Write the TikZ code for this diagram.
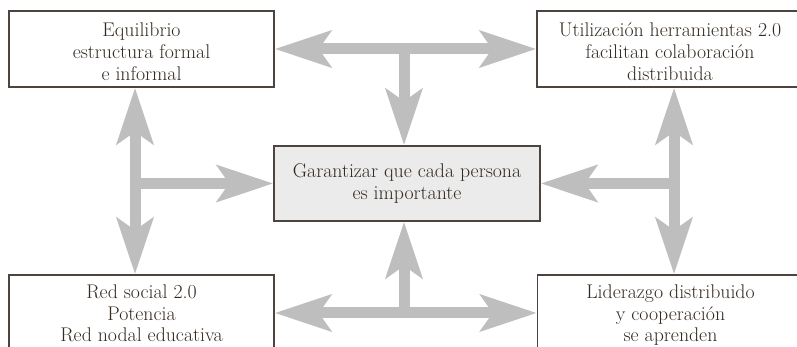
\documentclass[tikz,border=0pt]{standalone}
\usepackage{fontspec}
\usetikzlibrary{arrows.meta}
\definecolor{txtc}{HTML}{33291F}
\definecolor{brdc}{HTML}{4D4440}
\definecolor{arrc}{HTML}{BEBEBE}
\definecolor{cfill}{HTML}{EBEBEB}
\newcommand{\boxtext}[2][0pt]{\raisebox{#1}[\height][\depth]{\begin{tabular}{@{}c@{}}#2\end{tabular}}}
\tikzset{
  box/.style={draw=brdc, line width=1.3pt, text=txtc, align=center, inner sep=0pt,
    minimum width=265pt, minimum height=76pt,
    font=\fontsize{19.8}{21.7}\selectfont},
  conn/.style={draw=arrc, line width=11pt,
    arrows={-Stealth[length=56pt, width=36pt, inset=12pt]}},
  dconn/.style={draw=arrc, line width=11pt,
    arrows={Stealth[length=56pt, width=36pt, inset=12pt]-Stealth[length=56pt, width=36pt, inset=12pt]}}
}
\begin{document}
\begin{tikzpicture}[x=1pt,y=1pt]
\useasboundingbox (0,0) rectangle (797,347);
\node[box] (tl) at (141.5,298) {\boxtext[-5.3pt]{Equilibrio\\estructura formal\\e informal}};
\node[box, minimum width=266pt] (tr) at (670,298) {\boxtext[-5.3pt]{Utilización herramientas 2.0\\facilitan colaboración\\distribuida}};
\node[box] (bl) at (141.5,34) {\boxtext[-2.7pt]{Red social 2.0\\Potencia\\Red nodal educativa}};
\node[box, minimum width=266pt] (br) at (670.5,34) {\boxtext[-2.7pt]{Liderazgo distribuido\\y cooperación\\se aprenden}};
\node[box, fill=cfill, minimum width=266pt, minimum height=75pt] (c) at (407,163.5) {\boxtext[-1pt]{Garantizar que cada persona\\es importante}};
\coordinate (jt) at (404,298);
\coordinate (jb) at (404,34);
\coordinate (jl) at (135,163.5);
\coordinate (jr) at (674,163.5);
\draw[dconn] (tl.east) -- (tr.west);
\draw[conn] (jt) -- (jt |- c.north);
\draw[dconn] (bl.east) -- (br.west);
\draw[conn] (jb) -- (jb |- c.south);
\draw[dconn] (jl |- tl.south) -- (jl |- bl.north);
\draw[conn] (jl) -- (c.west);
\draw[dconn] (jr |- tr.south) -- (jr |- br.north);
\draw[conn] (jr) -- (c.east);
\end{tikzpicture}
\end{document}
